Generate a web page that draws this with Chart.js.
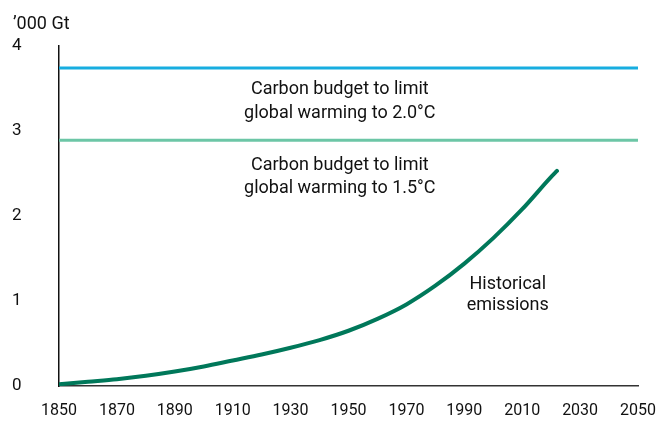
<!DOCTYPE html>
<html lang="en">
<head>
    <meta charset="UTF-8">
    <title>Carbon budget</title>
    <script src="https://cdn.jsdelivr.net/npm/chart.js"></script>
    <style>
        html, body { margin: 0; padding: 0; background: #fff; }
        .wrap { width: 671px; height: 423px; position: relative; }
    </style>
</head>
<body>
    <div class="wrap"><canvas id="chart"></canvas></div>
    <script>
        const years = [1850, 1860, 1870, 1880, 1890, 1900, 1910, 1920, 1930, 1940, 1950, 1960, 1970, 1980, 1990, 2000, 2010, 2020, 2022];
        const emissions = [0.02, 0.05, 0.08, 0.12, 0.17, 0.23, 0.30, 0.37, 0.45, 0.54, 0.65, 0.79, 0.96, 1.18, 1.44, 1.74, 2.08, 2.46, 2.53];
        const budget20 = 3.74;
        const budget15 = 2.89;
        const xRange = [1850, 2050];
        const yRange = [0, 4];

        const FONT = 'Roboto, "Open Sans", sans-serif';

        // labels placed in data coordinates
        const notes = [
            { x: 1947, y: 3.49, text: 'Carbon budget to limit' },
            { x: 1947, y: 3.21, text: 'global warming to 2.0°C' },
            { x: 1947, y: 2.60, text: 'Carbon budget to limit' },
            { x: 1947, y: 2.32, text: 'global warming to 1.5°C' },
            { x: 2005, y: 1.19, text: 'Historical' },
            { x: 2005, y: 0.95, text: 'emissions' }
        ];

        const textPlugin = {
            id: 'notes',
            afterDatasetsDraw(chart) {
                const c = chart.ctx;
                const xs = chart.scales.x, ys = chart.scales.y;
                c.save();
                c.fillStyle = '#111';
                c.font = '18px ' + FONT;
                c.textAlign = 'center';
                c.textBaseline = 'middle';
                notes.forEach(n => c.fillText(n.text, xs.getPixelForValue(n.x), ys.getPixelForValue(n.y)));
                c.font = '18px ' + FONT;
                c.textAlign = 'left';
                c.fillText('\u2019000 Gt', 13, 24);
                c.restore();
            }
        };

        const line = (v) => [{ x: xRange[0], y: v }, { x: xRange[1], y: v }];

        new Chart(document.getElementById('chart'), {
            type: 'line',
            data: {
                datasets: [
                    { data: line(budget20), borderColor: '#17ade0', borderWidth: 3, pointRadius: 0 },
                    { data: line(budget15), borderColor: '#6cc6a6', borderWidth: 3, pointRadius: 0 },
                    {
                        data: years.map((y, i) => ({ x: y, y: emissions[i] })),
                        borderColor: '#00785a', borderWidth: 4, pointRadius: 0,
                        cubicInterpolationMode: 'monotone', borderCapStyle: 'round'
                    }
                ]
            },
            options: {
                responsive: true,
                maintainAspectRatio: false,
                animation: false,
                layout: { padding: { left: 12, top: 46, right: 31, bottom: 0 } },
                plugins: { legend: { display: false }, tooltip: { enabled: false } },
                scales: {
                    x: {
                        type: 'linear', min: xRange[0], max: xRange[1],
                        grid: { display: false, drawTicks: false },
                        border: { display: true, color: '#333', width: 1.5 },
                        ticks: {
                            stepSize: 20, padding: 15, color: '#111',
                            font: { family: FONT, size: 16 },
                            callback: v => String(v)
                        },
                        afterFit: s => { s.height = 37; }
                    },
                    y: {
                        type: 'linear', min: yRange[0], max: yRange[1],
                        grid: { display: false, drawTicks: false },
                        border: { display: true, color: '#111', width: 1.5 },
                        ticks: {
                            stepSize: 1, crossAlign: 'far', color: '#111',
                            font: { family: FONT, size: 17 }
                        },
                        afterFit: s => { s.width = 47; }
                    }
                }
            },
            plugins: [textPlugin]
        });
    </script>
</body>
</html>
